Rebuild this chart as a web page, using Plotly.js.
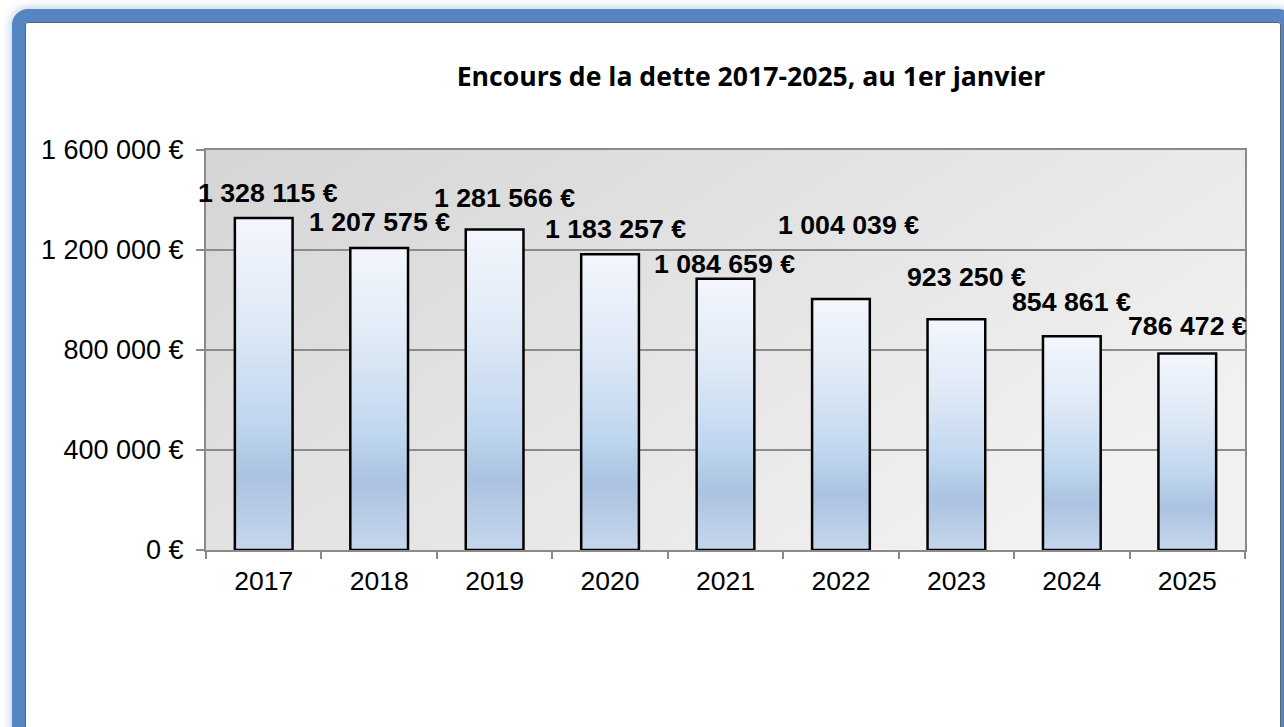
<!DOCTYPE html>
<html>
<head>
<meta charset="utf-8">
<script src="https://cdn.plot.ly/plotly-3.0.1.min.js"></script>
<style>
  html, body { margin: 0; padding: 0; background: #ffffff; width: 1284px; height: 727px; overflow: hidden; }
  #frame {
    position: absolute; left: 12px; top: 9px; width: 1282px; height: 820px;
    box-sizing: border-box; border: 13px solid #5585c2; border-radius: 16px;
    background: #ffffff;
    box-shadow: 0 0 8px 2px rgba(90,130,190,0.35), inset 0 0 0 1px #5a6470;
  }
  #chart { position: absolute; left: 0; top: 0; width: 1284px; height: 727px; }
</style>
</head>
<body>
<div id="frame"></div>
<div id="chart"></div>
<script>
// ---- data ----
const years = ['2017', '2018', '2019', '2020', '2021', '2022', '2023', '2024', '2025'];
const debt = [1328115, 1207575, 1281566, 1183257, 1084659, 1004039, 923250, 854861, 786472];
const yTickVals = [0, 400000, 800000, 1200000, 1600000];
const yTickText = ['0 €', '400 000 €', '800 000 €', '1 200 000 €', '1 600 000 €'];
const chartTitle = 'Encours de la dette 2017-2025, au 1er janvier';
// label placement offsets (pixels) as in the original
const labelDx = [4, 0, 10, 5, -1, 8, 10, 0, 0];
const labelDy = [25, 26.5, 32, 25, 15, 73.5, 42, 34, 27];

function fmt(n) {
  return String(n).replace(/\B(?=(\d{3})+(?!\d))/g, ' ') + ' €';
}

const bgSvg = "<svg xmlns='http://www.w3.org/2000/svg' width='100' height='100' preserveAspectRatio='none'>" +
  "<defs><linearGradient id='g' x1='0' y1='0' x2='1' y2='0.6'>" +
  "<stop offset='0' stop-color='#d5d5d5'/><stop offset='0.5' stop-color='#e3e3e3'/><stop offset='1' stop-color='#f1f1f1'/>" +
  "</linearGradient></defs><rect width='100' height='100' fill='url(#g)'/></svg>";

const trace = {
  type: 'bar',
  x: years,
  y: debt,
  marker: { color: '#c8d9ee', line: { color: '#000000', width: 2.5 } },
  hoverinfo: 'skip'
};

// on a category axis, annotation x is the category's serial number
const annotations = years.map((yr, i) => ({
  x: i, y: debt[i], xref: 'x', yref: 'y',
  text: fmt(debt[i]), showarrow: false,
  xanchor: 'center', yanchor: 'middle',
  xshift: labelDx[i], yshift: labelDy[i],
  font: { family: 'Liberation Sans, Arial, sans-serif', size: 26.7, color: '#000000', weight: 'bold' }
}));

const layout = {
  width: 1284, height: 727,
  margin: { l: 206, r: 39, t: 150, b: 177 },
  paper_bgcolor: 'rgba(0,0,0,0)',
  plot_bgcolor: 'rgba(0,0,0,0)',
  showlegend: false,
  bargap: 0.5,
  title: {
    text: chartTitle,
    x: 751 / 1284, xref: 'container', xanchor: 'center',
    y: 1 - 77 / 727, yref: 'container', yanchor: 'middle',
    font: { family: 'Open Sans, sans-serif', size: 26.6, color: '#000000', weight: 'bold' }
  },
  xaxis: {
    type: 'category',
    categoryorder: 'array', categoryarray: years,
    range: [-0.5, years.length - 0.5],
    showline: true, linecolor: '#8a8a8a', linewidth: 2, mirror: true,
    ticks: 'outside', tickson: 'boundaries', ticklen: 7, tickcolor: '#8a8a8a', tickwidth: 2,
    ticklabelstandoff: 6, tickangle: 0,
    showgrid: false,
    tickfont: { family: 'Liberation Sans, Arial, sans-serif', size: 26.5, color: '#000000' }
  },
  yaxis: {
    range: [0, 1600000],
    tickvals: yTickVals, ticktext: yTickText,
    showline: true, linecolor: '#8a8a8a', linewidth: 2, mirror: true,
    ticks: 'outside', ticklen: 8, tickcolor: '#8a8a8a', tickwidth: 2,
    ticklabelstandoff: 7,
    showgrid: true, gridcolor: '#8c8c8c', gridwidth: 1.5,
    zeroline: false,
    tickfont: { family: 'Liberation Sans, Arial, sans-serif', size: 27, color: '#000000' }
  },
  images: [{
    source: 'data:image/svg+xml;charset=utf-8,' + encodeURIComponent(bgSvg),
    xref: 'paper', yref: 'paper', x: 0, y: 1, sizex: 1, sizey: 1,
    xanchor: 'left', yanchor: 'top', sizing: 'stretch', layer: 'below'
  }],
  annotations: annotations,
  hovermode: false
};

Plotly.newPlot('chart', [trace], layout, { displayModeBar: false, staticPlot: true }).then(function (gd) {
  const svg = gd.querySelector('svg.main-svg');
  const ns = 'http://www.w3.org/2000/svg';
  let defs = svg.querySelector('defs');
  if (!defs) { defs = document.createElementNS(ns, 'defs'); svg.insertBefore(defs, svg.firstChild); }
  const grad = document.createElementNS(ns, 'linearGradient');
  grad.setAttribute('id', 'barGrad');
  grad.setAttribute('x1', '0'); grad.setAttribute('y1', '0');
  grad.setAttribute('x2', '0'); grad.setAttribute('y2', '1');
  const stops = [[0, '#f3f6fc'], [0.3, '#e0eaf6'], [0.62, '#bfd6ef'], [0.78, '#abc2e1'], [1, '#c6d7ec']];
  stops.forEach(function (s) {
    const st = document.createElementNS(ns, 'stop');
    st.setAttribute('offset', s[0]);
    st.setAttribute('stop-color', s[1]);
    grad.appendChild(st);
  });
  defs.appendChild(grad);
  gd.querySelectorAll('.bars .point path').forEach(function (p) {
    p.style.fill = 'url(#barGrad)';
  });
});
</script>
</body>
</html>
